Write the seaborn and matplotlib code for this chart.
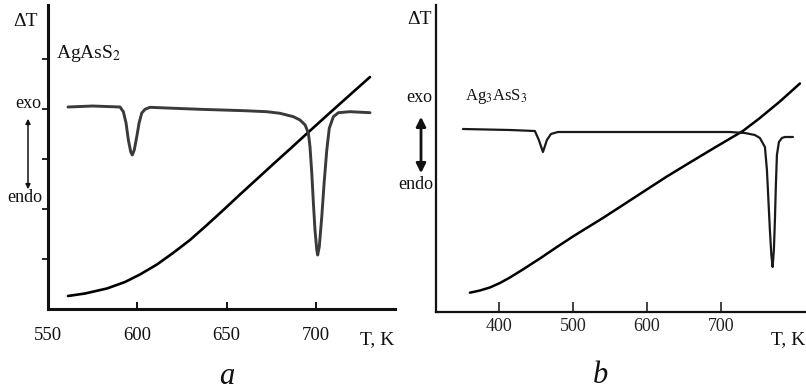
import matplotlib
matplotlib.use("Agg")
import matplotlib.pyplot as plt
import seaborn as sns

sns.set_theme(style="white")
plt.rcParams["font.family"] = ["Liberation Serif", "DejaVu Serif"]
plt.rcParams["mathtext.fontset"] = "stix"

# --- (a) AgAsS2: DTA trace and heating curve (T in K, signal in arbitrary units) ---
t_a_dta = [561.2, 575.0, 590.3, 592.2, 593.7, 595.0, 596.3, 597.2, 598.3, 599.7,
           601.0, 602.5, 604.3, 607.1, 616.5, 635.1, 660.0, 672.5, 679.9, 687.4,
           691.1, 694.0, 695.8, 696.7, 697.7, 698.6, 699.5, 700.5, 701.0, 701.9,
           703.3, 704.6, 706.1, 707.5, 709.8, 712.6, 719.1, 730.3]
dt_a_dta = [202.0, 203.0, 202.0, 197.3, 186.0, 169.0, 157.3, 154.0, 159.0, 172.3,
            186.0, 196.0, 199.7, 201.7, 201.0, 199.7, 198.3, 197.3, 195.7, 192.3,
            189.0, 184.0, 175.7, 162.3, 136.0, 106.0, 79.0, 59.0, 54.0, 62.3,
            92.3, 125.7, 159.0, 180.7, 192.3, 196.3, 197.3, 196.3]

t_a_heat = [561.2, 570.7, 583.0, 593.1, 601.5, 611.0, 620.0, 629.5, 639.0,
            648.5, 657.5, 667.0, 677.1, 685.5, 695.6, 707.9, 719.1, 730.3]
dt_a_heat = [13.0, 15.5, 20.5, 27.0, 34.5, 44.5, 56.0, 69.0, 84.0,
             99.5, 114.5, 130.0, 146.5, 160.0, 176.5, 196.3, 214.2, 232.0]

# --- (b) Ag3AsS3 ---
t_b_dta = [351.4, 414.9, 448.6, 454.0, 459.5, 464.9, 470.3, 479.7, 550.0, 633.0,
           712.2, 732.4, 745.9, 752.7, 759.5, 762.2, 764.2, 766.2, 768.2, 769.9,
           771.6, 773.0, 774.3, 775.7, 778.4, 782.4, 786.5, 797.3]
dt_b_dta = [183, 182, 181, 172, 160, 172, 178, 180, 180, 180,
            180, 179, 177, 174, 165, 142, 112, 82, 57, 45,
            62, 92, 127, 157, 170, 174, 175, 175]

t_b_heat = [360.8, 374.3, 387.8, 401.4, 414.9, 432.4, 455.4, 478.4, 500.0,
            523.0, 540.5, 563.5, 590.5, 627.0, 658.1, 691.9, 729.7, 752.7,
            779.7, 806.8]
dt_b_heat = [19.3, 21.5, 24.5, 29.0, 34.5, 42.5, 53.5, 65.0, 75.5,
             86.0, 94.0, 105.0, 118.0, 135.5, 149.5, 164.5, 181.0, 194.0,
             210.5, 228.5]

xticks_a = [550, 600, 650, 700]
xticks_b = [400, 500, 600, 700]

W, H = 806, 392
fig = plt.figure(figsize=(W / 100, H / 100), dpi=100)
fig.patch.set_facecolor("white")


def box(left, top, right, bottom):
    return [left / W, 1 - bottom / H, (right - left) / W, (bottom - top) / H]


def ftext(x, y, s, va="center", **kw):
    fig.text(x / W, 1 - y / H, s, ha="center", va=va, color="#111111", **kw)


# panel (a)
ax_a = fig.add_axes(box(48, 5, 395, 309))
sns.lineplot(x=t_a_heat, y=dt_a_heat, ax=ax_a, color="black", lw=1.9,
             sort=False, estimator=None)
sns.lineplot(x=t_a_dta, y=dt_a_dta, ax=ax_a, color="#3a3a3a", lw=2.1,
             sort=False, estimator=None)
ax_a.set_xlim(550, 744.3)
ax_a.set_ylim(0, 304)
ax_a.set_xticks(xticks_a)
ax_a.set_xticklabels([str(v) for v in xticks_a])
ax_a.set_yticks([50, 100, 150, 200, 250])
ax_a.set_yticklabels([])
ax_a.tick_params(axis="x", direction="in", length=5, width=1.4, pad=13,
                 labelsize=13.5, colors="#111111", bottom=True)
ax_a.tick_params(axis="y", direction="out", length=4, width=1.4, left=True)
for s in ("top", "right"):
    ax_a.spines[s].set_visible(False)
for s in ("left", "bottom"):
    ax_a.spines[s].set_linewidth(2.2)
    ax_a.spines[s].set_color("#111111")

# panel (b)
ax_b = fig.add_axes(box(436, 5, 806, 312))
sns.lineplot(x=t_b_heat, y=dt_b_heat, ax=ax_b, color="black", lw=1.8,
             sort=False, estimator=None)
sns.lineplot(x=t_b_dta, y=dt_b_dta, ax=ax_b, color="#1a1a1a", lw=1.6,
             sort=False, estimator=None)
ax_b.set_xlim(315, 815)
ax_b.set_ylim(0, 307)
ax_b.set_xticks(xticks_b)
ax_b.set_xticklabels([str(v) for v in xticks_b])
ax_b.set_yticks([])
ax_b.tick_params(axis="x", direction="in", length=7, width=1.2, pad=4,
                 labelsize=13, colors="#222222", bottom=True)
for s in ("top", "right"):
    ax_b.spines[s].set_visible(False)
for s in ("left", "bottom"):
    ax_b.spines[s].set_linewidth(1.6)
    ax_b.spines[s].set_color("#111111")

# labels, panel (a)
ftext(25, 21, "ΔT", fontsize=14)
ftext(89, 53, r"AgAsS$_2$", fontsize=14)
ftext(28, 104, "exo", fontsize=13)
ftext(25, 197, "endo", fontsize=13)
ftext(377, 340, "T, K", fontsize=14)
fig.add_artist(matplotlib.patches.FancyArrowPatch(
    (28 / W, 1 - 116 / H), (28 / W, 1 - 192 / H), transform=fig.transFigure,
    arrowstyle="<|-|>", mutation_scale=7, lw=1.1, color="#111111"))
ftext(227, 384, "a", va="baseline", fontsize=22, style="italic")

# labels, panel (b)
ftext(419, 20, "ΔT", fontsize=14)
ftext(496, 96, r"Ag$_3$AsS$_3$", fontsize=12)
ftext(419, 97, "exo", fontsize=13)
ftext(416, 184, "endo", fontsize=13)
ftext(788, 340, "T, K", fontsize=14)
fig.add_artist(matplotlib.patches.FancyArrowPatch(
    (421 / W, 1 - 114 / H), (421 / W, 1 - 176 / H), transform=fig.transFigure,
    arrowstyle="<|-|>", mutation_scale=14, lw=2.0, color="#111111"))
ftext(600, 383, "b", va="baseline", fontsize=22, style="italic")

fig.savefig("out.png", dpi=100, facecolor="white")
